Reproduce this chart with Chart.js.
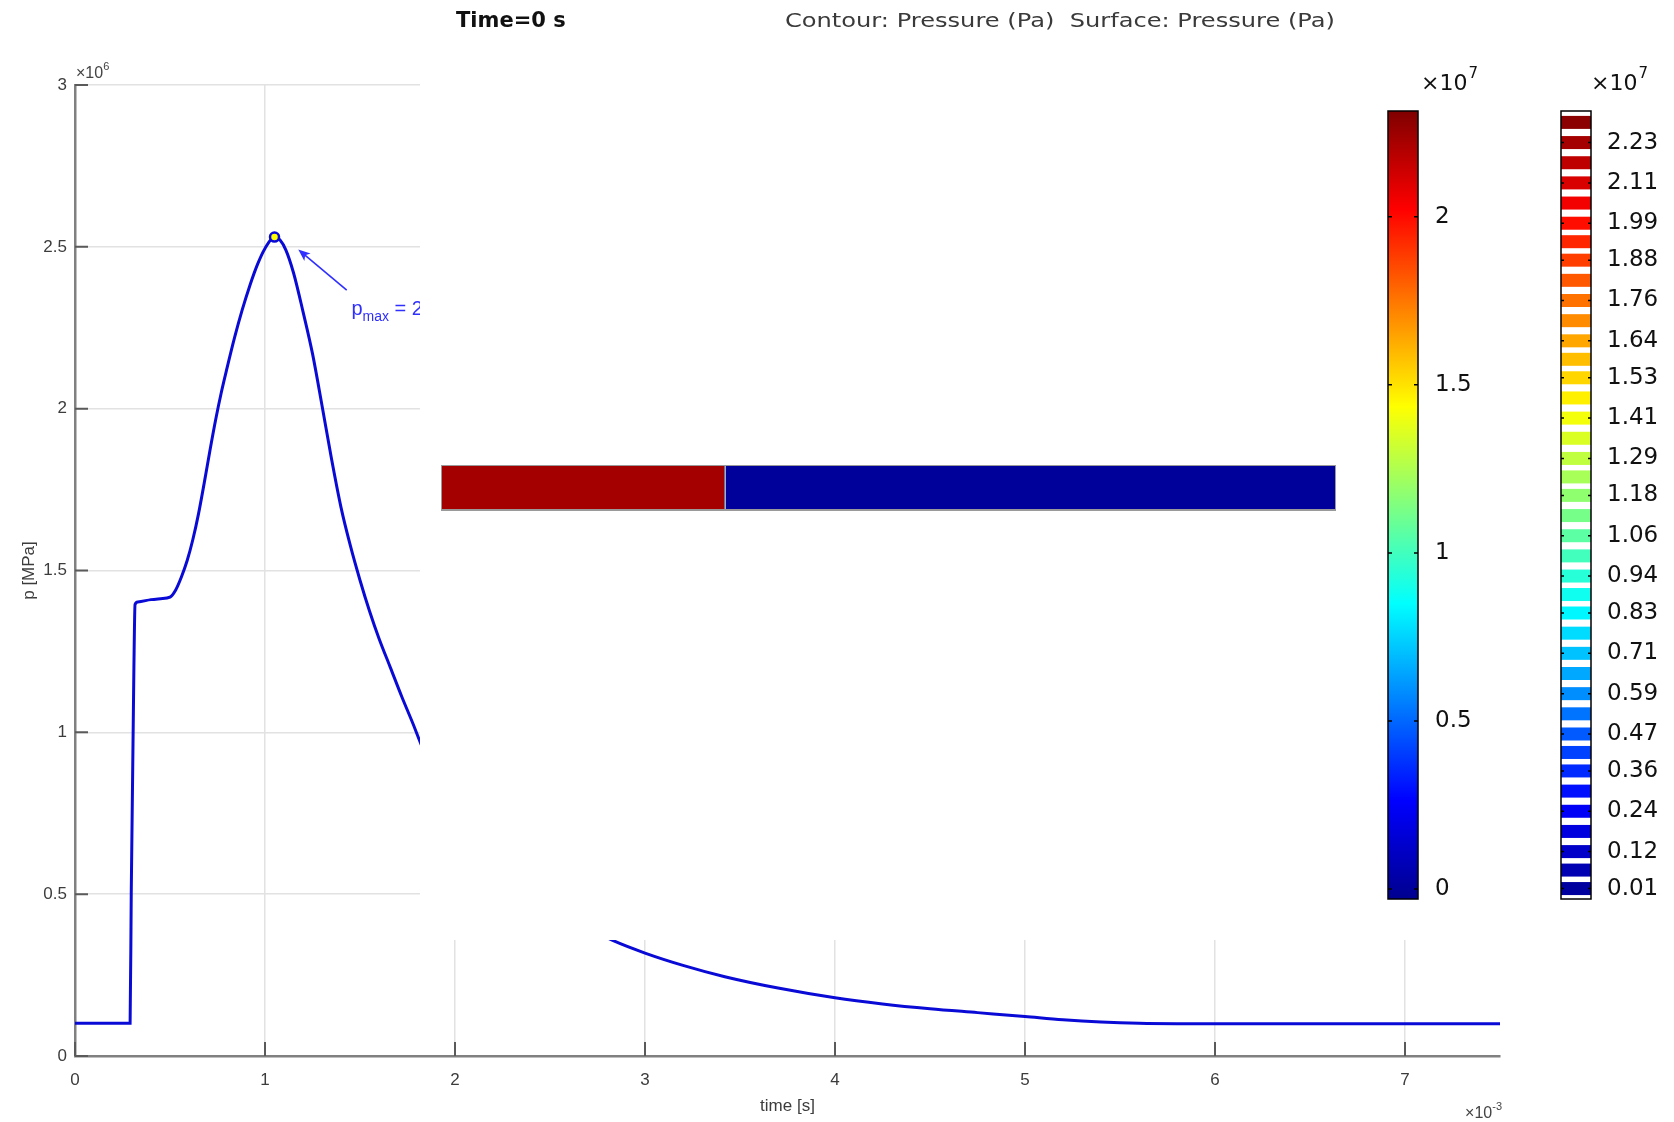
<!DOCTYPE html>
<html>
<head>
<meta charset="utf-8">
<script src="https://cdn.jsdelivr.net/npm/chart.js@4.4.0/dist/chart.umd.min.js"></script>
<style>
  html, body { margin: 0; padding: 0; background: #fff; }
  canvas { display: block; }
</style>
</head>
<body>
<canvas id="pressureChart" width="1674" height="1122"></canvas>
<script>
// pressure trace: time in units of 1e-3 s, pressure in units of 1e6
const timeMs = [0, 0.29, 0.296, 0.31, 0.316, 0.33, 0.40, 0.45, 0.50, 0.53, 0.56, 0.59, 0.62, 0.65, 0.68, 0.71,
  0.74, 0.77, 0.80, 0.84, 0.88, 0.92, 0.96, 1.00, 1.05, 1.08, 1.11, 1.15, 1.20, 1.25, 1.30, 1.35,
  1.40, 1.45, 1.50, 1.55, 1.60, 1.66, 1.72, 1.78, 1.82, 1.90, 2.00, 2.10, 2.20, 2.35, 2.50, 2.65, 2.83, 3.00,
  3.20, 3.42, 3.70, 4.00, 4.25, 4.50, 4.75, 5.00, 5.20, 5.40, 5.60, 5.80, 6.50, 7.50];
const pressure = [0.101, 0.101, 0.5, 1.2, 1.395, 1.403, 1.41, 1.413, 1.418, 1.44, 1.48, 1.53, 1.595, 1.675, 1.77, 1.87,
  1.965, 2.05, 2.125, 2.22, 2.305, 2.38, 2.445, 2.495, 2.53, 2.52, 2.49, 2.42, 2.30, 2.17, 2.01, 1.845,
  1.695, 1.575, 1.47, 1.375, 1.29, 1.20, 1.11, 1.025, 0.965, 0.86, 0.77, 0.69, 0.62, 0.54, 0.47, 0.41, 0.357, 0.318,
  0.28, 0.245, 0.21, 0.18, 0.161, 0.146, 0.134, 0.122, 0.112, 0.105, 0.101, 0.1, 0.1, 0.1];
const peakPoint = { x: 1.05, y: 2.53 };
const xTicks = [0, 1, 2, 3, 4, 5, 6, 7];
const yTicks = [0, 0.5, 1, 1.5, 2, 2.5, 3];

// COMSOL overlay: colour bars in units of 1e7 Pa
const surfaceRange = [-0.03, 2.315];
const surfaceTicks = [2, 1.5, 1, 0.5, 0];
const contourLevels = [2.23, 2.11, 1.99, 1.88, 1.76, 1.64, 1.53, 1.41, 1.29, 1.18, 1.06, 0.94, 0.83, 0.71, 0.59,
  0.47, 0.36, 0.24, 0.12, 0.01];
const rodPressure = [2.23, 0.0];
const rodSplit = 0.317;

const axisFont = '"Liberation Sans", Arial, sans-serif';
const comsolFont = '"DejaVu Sans", sans-serif';
const lineBlue = '#0a0ad6';

const jetStops = [[0, [0, 0, 143]], [0.125, [0, 0, 255]], [0.375, [0, 255, 255]], [0.625, [255, 255, 0]],
  [0.875, [255, 0, 0]], [1, [128, 0, 0]]];

function jet(f) {
  f = Math.min(1, Math.max(0, f));
  for (let i = 1; i < jetStops.length; i++) {
    if (f <= jetStops[i][0]) {
      const [f0, c0] = jetStops[i - 1], [f1, c1] = jetStops[i];
      const k = (f - f0) / (f1 - f0);
      return 'rgb(' + c0.map((c, j) => Math.round(c + (c1[j] - c) * k)).join(',') + ')';
    }
  }
  return 'rgb(128,0,0)';
}
const frac = v => (v - surfaceRange[0]) / (surfaceRange[1] - surfaceRange[0]);

function drawPower(ctx, x, y, base, exp, size, align) {
  ctx.font = size + 'px ' + axisFont;
  const bw = ctx.measureText(base).width;
  ctx.font = Math.round(size * 0.7) + 'px ' + axisFont;
  const ew = ctx.measureText(exp).width;
  let sx = align === 'right' ? x - bw - ew : x;
  ctx.textAlign = 'left';
  ctx.textBaseline = 'middle';
  ctx.font = size + 'px ' + axisFont;
  ctx.fillText(base, sx, y);
  ctx.font = Math.round(size * 0.7) + 'px ' + axisFont;
  ctx.fillText(exp, sx + bw, y - size * 0.45);
}

// MATLAB-style inner ticks, exponent labels and the p_max annotation
const matlabExtras = {
  id: 'matlabExtras',
  afterDatasetsDraw(chart) {
    const { ctx, chartArea: a } = chart;
    const xs = chart.scales.x, ys = chart.scales.y;
    ctx.save();
    ctx.strokeStyle = '#5a5a5a';
    ctx.lineWidth = 2;
    ctx.beginPath();
    xs.ticks.forEach(t => {
      const px = xs.getPixelForValue(t.value);
      ctx.moveTo(px, a.bottom);
      ctx.lineTo(px, a.bottom - 14);
    });
    ys.ticks.forEach(t => {
      const py = ys.getPixelForValue(t.value);
      ctx.moveTo(a.left, py);
      ctx.lineTo(a.left + 13, py);
    });
    ctx.stroke();

    ctx.fillStyle = '#444';
    drawPower(ctx, a.left + 1, a.top - 11, '\u00d710', '6', 16, 'left');
    drawPower(ctx, a.right + 2, a.bottom + 58, '\u00d710', '-3', 16, 'right');

    // arrow to the peak
    const tailX = xs.getPixelForValue(1.43), tailY = ys.getPixelForValue(2.366);
    const tipX = xs.getPixelForValue(1.175), tipY = ys.getPixelForValue(2.492);
    const ang = Math.atan2(tipY - tailY, tipX - tailX);
    ctx.strokeStyle = '#2f2fff';
    ctx.fillStyle = '#2f2fff';
    ctx.lineWidth = 1.6;
    ctx.beginPath();
    ctx.moveTo(tailX, tailY);
    ctx.lineTo(tipX - 6 * Math.cos(ang), tipY - 6 * Math.sin(ang));
    ctx.stroke();
    ctx.beginPath();
    ctx.moveTo(tipX, tipY);
    ctx.lineTo(tipX - 13 * Math.cos(ang - 0.38), tipY - 13 * Math.sin(ang - 0.38));
    ctx.lineTo(tipX - 9 * Math.cos(ang), tipY - 9 * Math.sin(ang));
    ctx.lineTo(tipX - 13 * Math.cos(ang + 0.38), tipY - 13 * Math.sin(ang + 0.38));
    ctx.closePath();
    ctx.fill();

    const tx = xs.getPixelForValue(1.455), ty = ys.getPixelForValue(2.29);
    ctx.textAlign = 'left';
    ctx.textBaseline = 'alphabetic';
    ctx.font = '20px ' + axisFont;
    ctx.fillText('p', tx, ty);
    const pw = ctx.measureText('p').width;
    ctx.font = '14px ' + axisFont;
    ctx.fillText('max', tx + pw, ty + 6);
    const mw = ctx.measureText('max').width;
    ctx.font = '20px ' + axisFont;
    ctx.fillText(' = 2.53 MPa', tx + pw + mw, ty);
    ctx.restore();
  }
};

// pasted COMSOL snapshot: white panel, titles, rod and two colour legends
const comsolOverlay = {
  id: 'comsolOverlay',
  afterDraw(chart) {
    const ctx = chart.ctx;
    ctx.save();
    ctx.fillStyle = '#fff';
    ctx.fillRect(420, 0, chart.width - 420, 940);

    ctx.textBaseline = 'middle';
    ctx.textAlign = 'left';
    ctx.fillStyle = '#111';
    ctx.font = 'bold 21px ' + comsolFont;
    ctx.fillText('Time=0 s', 456, 22);

    // subtitle is stretched wide in the snapshot
    const sub = 'Contour: Pressure (Pa)  Surface: Pressure (Pa)';
    ctx.fillStyle = '#3a3a3a';
    ctx.font = '20px ' + comsolFont;
    const sw = ctx.measureText(sub).width;
    ctx.save();
    ctx.translate(785, 22);
    ctx.scale(550 / sw, 1);
    ctx.fillText(sub, 0, 0);
    ctx.restore();

    // rod
    const rod = { left: 442, right: 1335, top: 466, bottom: 509 };
    const split = rod.left + rodSplit * (rod.right - rod.left);
    ctx.fillStyle = '#9a9a9a';
    ctx.fillRect(rod.left - 1, rod.top - 1, rod.right - rod.left + 2, rod.bottom - rod.top + 3);
    ctx.fillStyle = jet(frac(rodPressure[0]));
    ctx.fillRect(rod.left, rod.top, split - rod.left, rod.bottom - rod.top);
    ctx.fillStyle = jet(frac(rodPressure[1]));
    ctx.fillRect(split, rod.top, rod.right - split, rod.bottom - rod.top);
    ctx.fillStyle = '#9fe8ff';
    ctx.fillRect(split - 0.5, rod.top, 1.2, rod.bottom - rod.top);

    const top = 111, bottom = 899, w = 30;
    const cbY = v => bottom - frac(v) * (bottom - top);

    // surface colour bar
    const b1 = 1388;
    const grad = ctx.createLinearGradient(0, top, 0, bottom);
    for (let i = 0; i <= 40; i++) grad.addColorStop(i / 40, jet(1 - i / 40));
    ctx.fillStyle = grad;
    ctx.fillRect(b1, top, w, bottom - top);
    ctx.strokeStyle = '#000';
    ctx.lineWidth = 1.5;
    ctx.strokeRect(b1, top, w, bottom - top);
    ctx.fillStyle = '#111';
    ctx.font = '23px ' + comsolFont;
    ctx.beginPath();
    surfaceTicks.forEach(v => {
      const y = cbY(v);
      ctx.moveTo(b1, y); ctx.lineTo(b1 + 4, y);
      ctx.moveTo(b1 + w, y); ctx.lineTo(b1 + w - 4, y);
      ctx.fillText(String(v), b1 + 47, y);
    });
    ctx.stroke();

    // contour legend
    const b2 = 1561;
    ctx.fillStyle = '#fff';
    ctx.fillRect(b2, top, w, bottom - top);
    const bands = [contourLevels[0] + (contourLevels[0] - contourLevels[1]) / 2];
    contourLevels.forEach((v, i) => {
      bands.push(v);
      if (i < contourLevels.length - 1) bands.push((v + contourLevels[i + 1]) / 2);
    });
    ctx.save();
    ctx.beginPath();
    ctx.rect(b2, top, w, bottom - top);
    ctx.clip();
    bands.forEach(v => {
      const y = cbY(v) + 3;
      ctx.fillStyle = jet(frac(v));
      ctx.fillRect(b2, y - 6.5, w, 13);
    });
    ctx.restore();
    ctx.strokeStyle = '#000';
    ctx.lineWidth = 1.5;
    ctx.strokeRect(b2, top, w, bottom - top);
    ctx.fillStyle = '#111';
    ctx.font = '23px ' + comsolFont;
    ctx.beginPath();
    contourLevels.forEach(v => {
      const y = cbY(v) + 3;
      ctx.moveTo(b2, y); ctx.lineTo(b2 + 3, y);
      ctx.moveTo(b2 + w, y); ctx.lineTo(b2 + w - 3, y);
      ctx.fillText(v.toFixed(2), b2 + 46, y);
    });
    ctx.stroke();

    // x10^7 headers
    [b1 + 33, b2 + 30].forEach(x => {
      ctx.font = '22px ' + comsolFont;
      ctx.textAlign = 'left';
      ctx.fillText('\u00d710', x, 84);
      const bw = ctx.measureText('\u00d710').width;
      ctx.font = '15px ' + comsolFont;
      ctx.fillText('7', x + bw + 1, 74);
    });
    ctx.restore();
  }
};

const ctx = document.getElementById('pressureChart').getContext('2d');
new Chart(ctx, {
  type: 'scatter',
  data: {
    datasets: [
      {
        data: timeMs.map((t, i) => ({ x: t, y: pressure[i] })),
        showLine: true,
        borderColor: lineBlue,
        borderWidth: 3,
        pointRadius: 0,
        cubicInterpolationMode: 'monotone',
        order: 2
      },
      {
        data: [peakPoint],
        pointRadius: 4.5,
        pointBackgroundColor: '#ffff00',
        pointBorderColor: lineBlue,
        pointBorderWidth: 2.5,
        order: 1
      }
    ]
  },
  options: {
    responsive: false,
    animation: false,
    devicePixelRatio: 1,
    layout: { padding: { top: 85, right: 174, left: 0, bottom: 0 } },
    plugins: { legend: { display: false }, tooltip: { enabled: false } },
    scales: {
      x: {
        type: 'linear',
        min: 0,
        max: 7.5,
        afterFit: s => { s.height = 66; },
        afterBuildTicks: s => { s.ticks = xTicks.map(v => ({ value: v })); },
        ticks: { color: '#3c3c3c', font: { family: axisFont, size: 17 }, padding: 14, maxRotation: 0,
          callback: v => String(v) },
        grid: { color: '#e2e2e2', lineWidth: 1.5, drawTicks: false },
        border: { color: '#808080', width: 2.5 },
        title: { display: true, text: 'time [s]', color: '#3c3c3c', font: { family: axisFont, size: 17 },
          padding: { top: 0, bottom: 5 } }
      },
      y: {
        type: 'linear',
        min: 0,
        max: 3,
        afterFit: s => { s.width = 75; },
        afterBuildTicks: s => { s.ticks = yTicks.map(v => ({ value: v })); },
        ticks: { color: '#3c3c3c', font: { family: axisFont, size: 17 }, padding: 8, callback: v => String(v) },
        grid: { color: '#e2e2e2', lineWidth: 1.5, drawTicks: false },
        border: { color: '#808080', width: 2.5 },
        title: { display: true, text: 'p [MPa]', color: '#3c3c3c', font: { family: axisFont, size: 17 },
          padding: { top: 19, bottom: 0 } }
      }
    }
  },
  plugins: [matlabExtras, comsolOverlay]
});
</script>
</body>
</html>
